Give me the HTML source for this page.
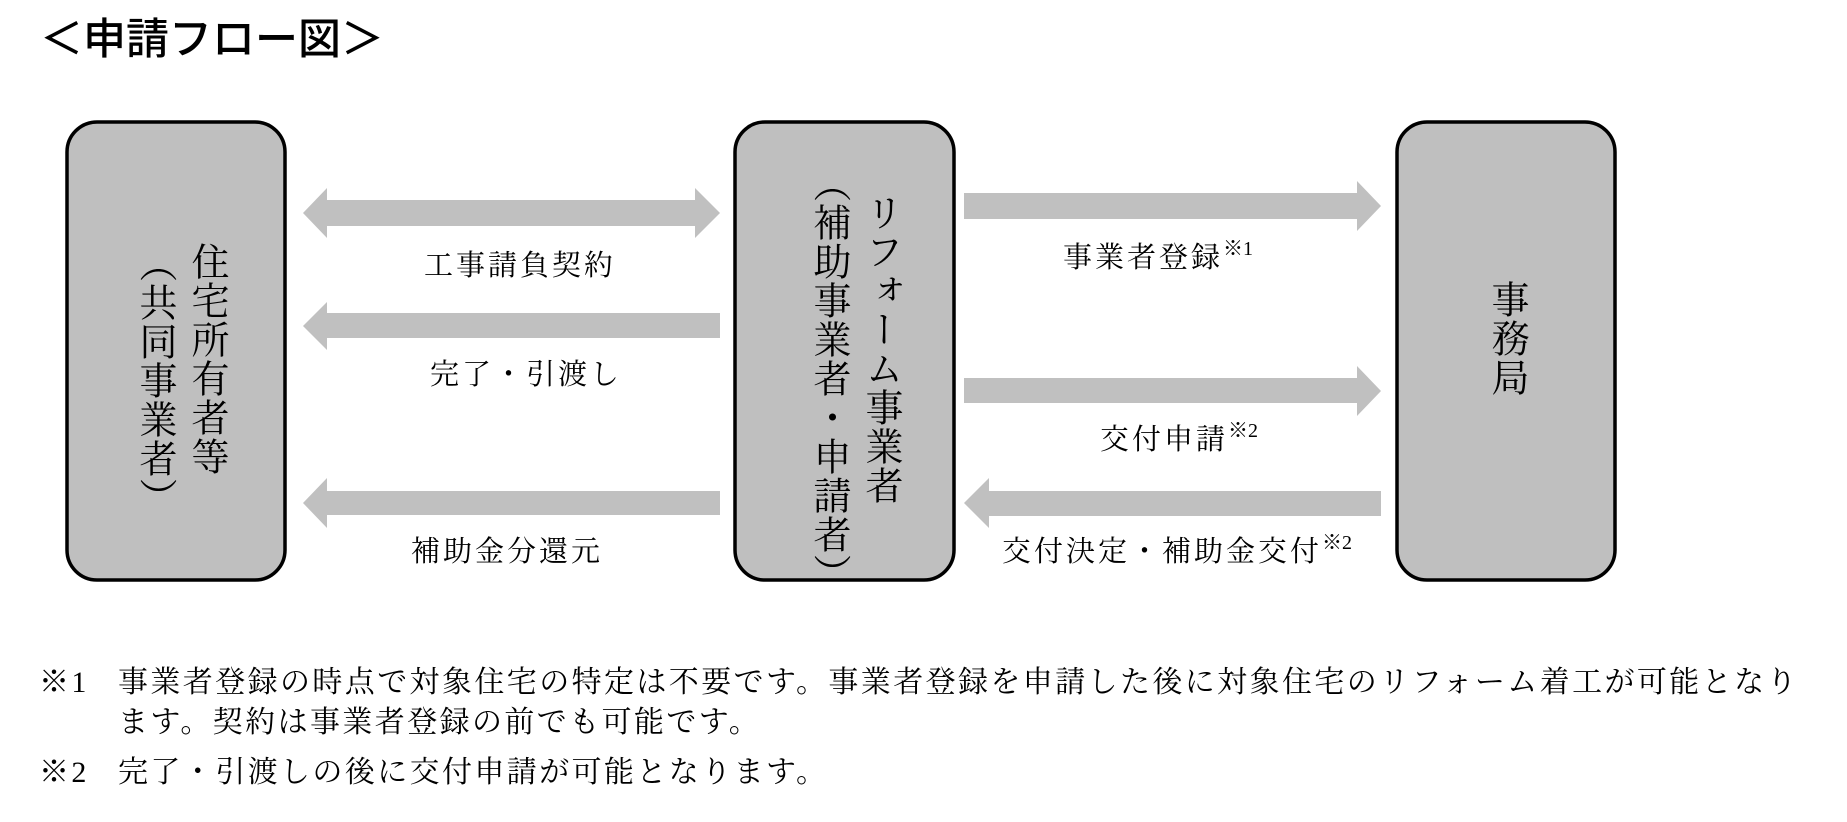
<!DOCTYPE html>
<html><head><meta charset="utf-8">
<style>
html,body{margin:0;padding:0;background:#fff;}
body{width:1847px;height:822px;position:relative;overflow:hidden;font-family:"Liberation Serif","Noto Serif CJK JP","Noto Serif CJK SC",serif;color:#000;}
.t{position:absolute;white-space:nowrap;line-height:1;}
.v{position:absolute;writing-mode:vertical-rl;line-height:1;font-size:38px;letter-spacing:1px;white-space:nowrap;}
.lab{position:absolute;font-size:29px;letter-spacing:3px;white-space:nowrap;line-height:1;}
sup{font-size:20px;vertical-align:top;position:relative;top:-5px;letter-spacing:0;}
.fn{position:absolute;font-size:30px;letter-spacing:2.4px;white-space:nowrap;line-height:1;}
</style></head><body>
<div class="t" style="left:40px;top:19px;font-size:43px;font-family:'Liberation Sans','Noto Sans CJK JP',sans-serif;font-weight:500;letter-spacing:0px;">＜申請フロー図＞</div>

<svg width="1847" height="822" style="position:absolute;left:0;top:0">
<g fill="#bfbfbf" stroke="#000" stroke-width="3.5">
<rect x="67" y="122" width="218" height="458" rx="30"/>
<rect x="735" y="122" width="219" height="458" rx="30"/>
<rect x="1397" y="122" width="218" height="458" rx="30"/>
</g>
<g fill="#c0c0c0">
<polygon points="303,213 327,188 327,200 695,200 695,188 720,213 695,238 695,226 327,226 327,238"/>
<polygon points="303,326 327,302 327,313 720,313 720,338 327,338 327,350"/>
<polygon points="303,503 327,478 327,491 720,491 720,515 327,515 327,528"/>
<polygon points="964,193 1357,193 1357,181 1381,206 1357,231 1357,219 964,219"/>
<polygon points="964,378 1357,378 1357,366 1381,391 1357,416 1357,403 964,403"/>
<polygon points="964,503 989,478 989,491 1381,491 1381,516 989,516 989,528"/>
</g>
</svg>

<div class="v" style="left:187px;top:242px;">住宅所有者等</div>
<div class="v" style="left:135px;top:244px;">（共同事業者）</div>
<div class="v" style="left:861px;top:193px;">リフォーム事業者</div>
<div class="v" style="left:809px;top:164px;">（補助事業者・申請者）</div>
<div class="v" style="left:1487px;top:280px;">事務局</div>

<div class="lab" style="left:424px;top:252px;">工事請負契約</div>
<div class="lab" style="left:430px;top:361px;">完了・引渡し</div>
<div class="lab" style="left:411px;top:538px;">補助金分還元</div>
<div class="lab" style="left:1063px;top:244px;">事業者登録<sup>※1</sup></div>
<div class="lab" style="left:1100px;top:426px;">交付申請<sup>※2</sup></div>
<div class="lab" style="left:1002px;top:538px;">交付決定・補助金交付<sup>※2</sup></div>

<div class="fn" style="left:39px;top:668px;">※1</div>
<div class="fn" style="left:118px;top:668px;">事業者登録の時点で対象住宅の特定は不要です。事業者登録を申請した後に対象住宅のリフォーム着工が可能となり</div>
<div class="fn" style="left:118px;top:708px;">ます。契約は事業者登録の前でも可能です。</div>
<div class="fn" style="left:39px;top:758px;">※2</div>
<div class="fn" style="left:118px;top:758px;">完了・引渡しの後に交付申請が可能となります。</div>
</body></html>
